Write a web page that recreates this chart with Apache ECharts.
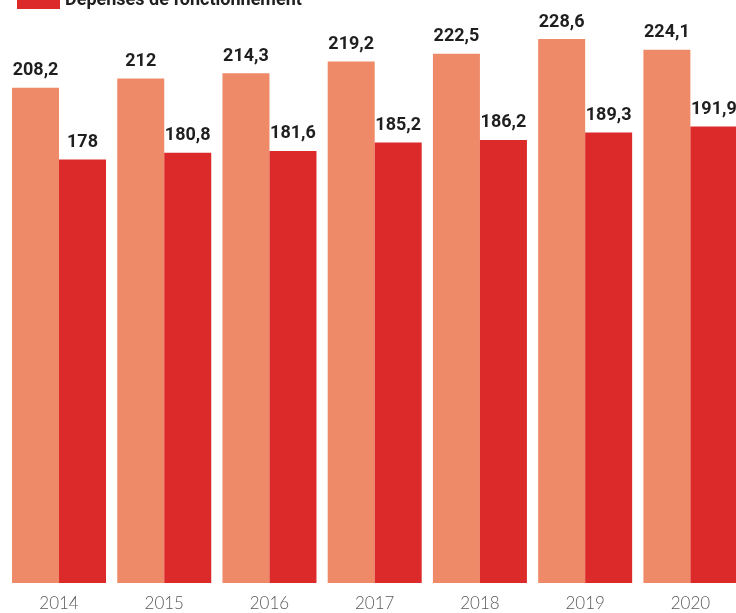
<!DOCTYPE html>
<html>
<head>
<meta charset="utf-8">
<style>
  html, body { margin: 0; padding: 0; background: #ffffff; overflow: hidden; }
  /* the drawing is a little wider than the window, so the last bar runs off the edge */
  #chart { width: 743px; height: 613px; }
</style>
<script src="https://cdn.jsdelivr.net/npm/echarts@6/dist/echarts.min.js"></script>
</head>
<body>
<div id="chart"></div>
<script>
// Years on the category axis
const years = ['2014', '2015', '2016', '2017', '2018', '2019', '2020'];
// Operating revenue (light bars)
const recettes = [208.2, 212, 214.3, 219.2, 222.5, 228.6, 224.1];
// Operating expenses (dark red bars)
const depenses = [178, 180.8, 181.6, 185.2, 186.2, 189.3, 191.9];

const fmt = v => String(v).replace('.', ',');

const labelStyle = {
  show: true,
  position: 'top',
  distance: 8,
  color: '#1f1f1f',
  fontFamily: 'Roboto',
  fontWeight: 'bold',
  fontSize: 18,
  formatter: p => fmt(p.value)
};

const chart = echarts.init(document.getElementById('chart'), null, { renderer: 'canvas' });
chart.setOption({
  animation: false,
  backgroundColor: '#ffffff',
  legend: {
    data: ['Dépenses de fonctionnement'],
    left: 12,
    top: -14,
    icon: 'rect',
    itemWidth: 43,
    itemHeight: 18,
    textStyle: {
      fontFamily: 'Roboto',
      fontWeight: 'bold',
      fontSize: 18,
      color: '#1f1f1f',
      padding: [0, 0, 0, 0]
    }
  },
  grid: { left: 6.4, right: 0, top: 12, bottom: 30, containLabel: false },
  xAxis: {
    type: 'category',
    data: years,
    axisLine: { show: false },
    axisTick: { show: false },
    axisLabel: {
      margin: 12,
      color: '#5a5a5a',
      fontFamily: 'Lato',
      fontWeight: 300,
      fontSize: 17
    }
  },
  yAxis: {
    type: 'value',
    min: 0,
    max: 240,
    show: false,
    splitLine: { show: false }
  },
  series: [
    {
      name: 'Recettes de fonctionnement',
      type: 'bar',
      data: recettes,
      barWidth: 47,
      barGap: '0%',
      itemStyle: { color: '#EE8A68' },
      label: labelStyle
    },
    {
      name: 'Dépenses de fonctionnement',
      type: 'bar',
      data: depenses,
      barWidth: 47,
      barGap: '0%',
      itemStyle: { color: '#DC2A2A' },
      label: labelStyle
    }
  ]
});
</script>
</body>
</html>
